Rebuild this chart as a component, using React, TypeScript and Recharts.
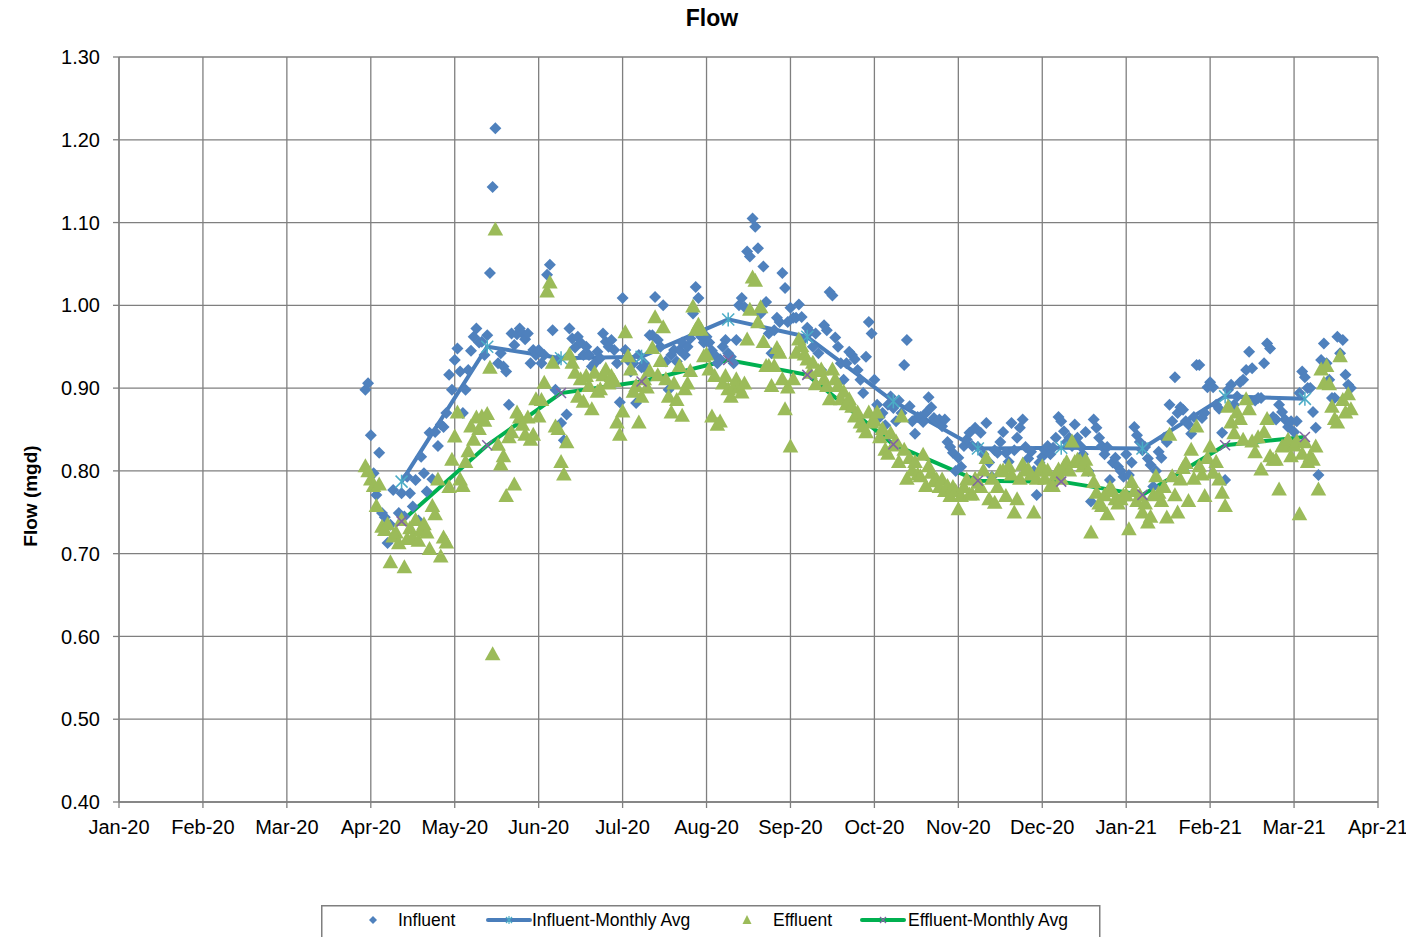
import React from 'react';
import { ComposedChart, Scatter, Line, XAxis, YAxis, CartesianGrid } from 'recharts';

const monthLabels = ['Jan-20', 'Feb-20', 'Mar-20', 'Apr-20', 'May-20', 'Jun-20', 'Jul-20', 'Aug-20', 'Sep-20', 'Oct-20', 'Nov-20', 'Dec-20', 'Jan-21', 'Feb-21', 'Mar-21', 'Apr-21'];
const daysInMonth = [31, 29, 31, 30, 31, 30, 31, 31, 30, 31, 30, 31, 31, 28, 31, 30];
const monthTicks = [0, 1, 2, 3, 4, 5, 6, 7, 8, 9, 10, 11, 12, 13, 14, 15];
const yTicks = [0.4, 0.5, 0.6, 0.7, 0.8, 0.9, 1.0, 1.1, 1.2, 1.3];

// Influent daily flow (mgd)
const influentMar20 = [0.898, 0.906]; // starts Mar 30
const influentApr20 = [0.843, 0.797, 0.771, 0.822, 0.749, 0.744, 0.713, 0.735, 0.777, 0.720, 0.749, 0.773, 0.745, 0.793, 0.773, 0.757, 0.789, 0.740, 0.817, 0.797, 0.775, 0.846, 0.790, 0.847, 0.830, 0.856, 0.853, 0.870, 0.916, 0.898];
const influentMay20 = [0.934, 0.948, 0.920, 0.870, 0.898, 0.922, 0.945, 0.962, 0.972, 0.955, 0.956, 0.940, 0.964, 1.039, 1.143, 1.214, 0.930, 0.942, 0.926, 0.920, 0.880, 0.966, 0.952, 0.965, 0.972, 0.966, 0.959, 0.966, 0.930, 0.946, 0.940];
const influentJun20 = [0.946, 0.930, 0.940, 1.037, 1.049, 0.970, 0.898, 0.935, 0.858, 0.837, 0.868, 0.972, 0.960, 0.949, 0.962, 0.955, 0.940, 0.950, 0.940, 0.926, 0.930, 0.944, 0.936, 0.966, 0.956, 0.950, 0.958, 0.946, 0.930, 0.883];
const influentJul20 = [1.009, 0.946, 0.934, 0.920, 0.930, 0.882, 0.940, 0.925, 0.930, 0.922, 0.964, 0.964, 1.010, 0.958, 0.950, 1.000, 0.932, 0.898, 0.940, 0.946, 0.932, 0.946, 0.955, 0.940, 0.950, 0.960, 0.990, 1.022, 1.009, 0.962, 0.955];
const influentAug20 = [0.962, 0.955, 0.945, 0.940, 0.930, 0.935, 0.950, 0.958, 0.942, 0.938, 0.930, 0.958, 1.000, 1.009, 0.998, 1.065, 1.059, 1.105, 1.095, 1.069, 0.990, 1.047, 1.004, 0.966, 0.942, 0.970, 0.985, 0.980, 1.039, 1.021, 0.980];
const influentSep20 = [0.997, 0.985, 0.985, 1.001, 0.986, 0.960, 0.973, 0.968, 0.950, 0.966, 0.942, 0.922, 0.976, 0.970, 1.016, 1.012, 0.961, 0.950, 0.930, 0.910, 0.930, 0.944, 0.940, 0.935, 0.922, 0.910, 0.894, 0.938, 0.980, 0.966];
const influentOct20 = [0.910, 0.880, 0.865, 0.870, 0.855, 0.880, 0.890, 0.876, 0.860, 0.885, 0.870, 0.928, 0.958, 0.878, 0.860, 0.845, 0.865, 0.865, 0.859, 0.870, 0.889, 0.877, 0.864, 0.860, 0.862, 0.854, 0.862, 0.835, 0.829, 0.822, 0.800];
const influentNov20 = [0.816, 0.805, 0.830, 0.838, 0.846, 0.830, 0.852, 0.829, 0.846, 0.820, 0.858, 0.810, 0.793, 0.825, 0.822, 0.835, 0.847, 0.822, 0.811, 0.858, 0.825, 0.840, 0.852, 0.862, 0.829, 0.815, 0.823, 0.800, 0.771, 0.810];
const influentDec20 = [0.817, 0.825, 0.830, 0.820, 0.828, 0.840, 0.865, 0.860, 0.848, 0.835, 0.840, 0.830, 0.856, 0.840, 0.830, 0.820, 0.847, 0.800, 0.763, 0.862, 0.852, 0.840, 0.830, 0.820, 0.829, 0.789, 0.810, 0.816, 0.805, 0.800, 0.793];
const influentJan21 = [0.820, 0.795, 0.810, 0.853, 0.843, 0.835, 0.825, 0.829, 0.815, 0.807, 0.781, 0.800, 0.823, 0.816, 0.840, 0.835, 0.880, 0.860, 0.913, 0.870, 0.877, 0.874, 0.860, 0.856, 0.845, 0.865, 0.928, 0.928, 0.864, 0.870, 0.901];
const influentFeb21 = [0.907, 0.901, 0.880, 0.875, 0.846, 0.789, 0.898, 0.904, 0.880, 0.890, 0.907, 0.910, 0.922, 0.944, 0.924, 0.885, 0.888, 0.888, 0.930, 0.954, 0.948, 0.865, 0.862, 0.880, 0.871, 0.862, 0.853, 0.860];
const influentMar21 = [0.847, 0.860, 0.894, 0.920, 0.913, 0.900, 0.900, 0.871, 0.852, 0.795, 0.934, 0.954, 0.930, 0.910, 0.888, 0.888, 0.962, 0.942, 0.958, 0.916, 0.904, 0.900];

// Effluent daily flow (mgd)
const effluentMar20 = [0.805, 0.799]; // starts Mar 30
const effluentApr20 = [0.789, 0.781, 0.757, 0.783, 0.732, 0.728, 0.735, 0.689, 0.720, 0.725, 0.712, 0.740, 0.683, 0.717, 0.730, 0.719, 0.740, 0.715, 0.728, 0.735, 0.725, 0.705, 0.757, 0.747, 0.789, 0.696, 0.719, 0.713, 0.780, 0.813];
const effluentMay20 = [0.841, 0.870, 0.789, 0.781, 0.810, 0.823, 0.853, 0.837, 0.864, 0.850, 0.865, 0.860, 0.868, 0.924, 0.578, 1.091, 0.831, 0.807, 0.817, 0.769, 0.840, 0.846, 0.783, 0.870, 0.864, 0.855, 0.843, 0.864, 0.837, 0.843, 0.886];
const effluentJun20 = [0.865, 0.885, 0.906, 1.016, 1.027, 0.930, 0.853, 0.850, 0.810, 0.795, 0.834, 0.940, 0.930, 0.918, 0.889, 0.910, 0.883, 0.914, 0.902, 0.874, 0.918, 0.895, 0.898, 0.915, 0.922, 0.905, 0.914, 0.908, 0.858, 0.843];
const effluentJul20 = [0.871, 0.967, 0.938, 0.922, 0.895, 0.902, 0.858, 0.889, 0.910, 0.900, 0.920, 0.948, 0.985, 0.915, 0.932, 0.973, 0.910, 0.889, 0.870, 0.905, 0.885, 0.926, 0.866, 0.898, 0.905, 0.920, 0.998, 0.970, 0.976, 0.970, 0.938];
const effluentAug20 = [0.940, 0.922, 0.865, 0.914, 0.855, 0.859, 0.905, 0.914, 0.898, 0.889, 0.900, 0.910, 0.900, 0.894, 0.905, 0.958, 0.994, 1.033, 1.029, 0.979, 0.997, 0.955, 0.926, 0.926, 0.902, 0.926, 0.948, 0.942, 0.910, 0.874, 0.900];
const effluentSep20 = [0.829, 0.910, 0.942, 0.958, 0.950, 0.940, 0.934, 0.918, 0.930, 0.904, 0.920, 0.922, 0.910, 0.902, 0.886, 0.922, 0.910, 0.902, 0.886, 0.895, 0.880, 0.886, 0.877, 0.865, 0.870, 0.858, 0.853, 0.846, 0.870, 0.858];
const effluentOct20 = [0.860, 0.870, 0.840, 0.850, 0.825, 0.820, 0.845, 0.830, 0.835, 0.810, 0.865, 0.825, 0.790, 0.815, 0.800, 0.810, 0.795, 0.793, 0.819, 0.781, 0.805, 0.797, 0.787, 0.789, 0.780, 0.789, 0.775, 0.781, 0.769, 0.780, 0.775];
const effluentNov20 = [0.753, 0.769, 0.780, 0.789, 0.771, 0.771, 0.790, 0.785, 0.780, 0.800, 0.815, 0.765, 0.790, 0.761, 0.780, 0.799, 0.800, 0.769, 0.805, 0.795, 0.749, 0.765, 0.790, 0.807, 0.800, 0.801, 0.795, 0.749, 0.790, 0.800];
const effluentDec20 = [0.805, 0.790, 0.800, 0.781, 0.781, 0.795, 0.801, 0.790, 0.805, 0.810, 0.800, 0.835, 0.810, 0.813, 0.811, 0.805, 0.813, 0.800, 0.725, 0.786, 0.773, 0.760, 0.757, 0.770, 0.747, 0.779, 0.775, 0.765, 0.760, 0.765, 0.770];
const effluentJan21 = [0.770, 0.729, 0.786, 0.775, 0.763, 0.770, 0.749, 0.760, 0.737, 0.744, 0.770, 0.793, 0.773, 0.763, 0.780, 0.743, 0.843, 0.793, 0.770, 0.749, 0.789, 0.803, 0.809, 0.763, 0.825, 0.790, 0.853, 0.805, 0.795, 0.769, 0.815];
const effluentFeb21 = [0.829, 0.797, 0.810, 0.789, 0.773, 0.757, 0.877, 0.858, 0.845, 0.870, 0.862, 0.837, 0.886, 0.874, 0.835, 0.822, 0.840, 0.801, 0.846, 0.862, 0.817, 0.813, 0.813, 0.777, 0.829, 0.831, 0.837, 0.817];
const effluentMar21 = [0.830, 0.835, 0.747, 0.820, 0.834, 0.810, 0.817, 0.813, 0.829, 0.777, 0.922, 0.905, 0.926, 0.904, 0.877, 0.862, 0.858, 0.938, 0.885, 0.870, 0.892, 0.874];

// Monthly averages (Apr-20 .. Mar-21)
const avgMonths = [3, 4, 5, 6, 7, 8, 9, 10, 11, 12, 13, 14];
const avgDays = [12, 13, 9, 8, 9, 7, 8, 8, 8, 7, 6, 5];
const influentAvg = [0.787, 0.950, 0.936, 0.938, 0.983, 0.962, 0.884, 0.827, 0.828, 0.827, 0.890, 0.887];
const effluentAvg = [0.739, 0.831, 0.894, 0.908, 0.934, 0.916, 0.832, 0.788, 0.787, 0.771, 0.831, 0.841];

type Pt = { x: number; y: number };
type MonthBlock = { month: number; start: number; values: number[] };

const influentBlocks: MonthBlock[] = [
  { month: 2, start: 30, values: influentMar20 },
  { month: 3, start: 1, values: influentApr20 },
  { month: 4, start: 1, values: influentMay20 },
  { month: 5, start: 1, values: influentJun20 },
  { month: 6, start: 1, values: influentJul20 },
  { month: 7, start: 1, values: influentAug20 },
  { month: 8, start: 1, values: influentSep20 },
  { month: 9, start: 1, values: influentOct20 },
  { month: 10, start: 1, values: influentNov20 },
  { month: 11, start: 1, values: influentDec20 },
  { month: 12, start: 1, values: influentJan21 },
  { month: 13, start: 1, values: influentFeb21 },
  { month: 14, start: 1, values: influentMar21 },
];
const effluentBlocks: MonthBlock[] = [
  { month: 2, start: 30, values: effluentMar20 },
  { month: 3, start: 1, values: effluentApr20 },
  { month: 4, start: 1, values: effluentMay20 },
  { month: 5, start: 1, values: effluentJun20 },
  { month: 6, start: 1, values: effluentJul20 },
  { month: 7, start: 1, values: effluentAug20 },
  { month: 8, start: 1, values: effluentSep20 },
  { month: 9, start: 1, values: effluentOct20 },
  { month: 10, start: 1, values: effluentNov20 },
  { month: 11, start: 1, values: effluentDec20 },
  { month: 12, start: 1, values: effluentJan21 },
  { month: 13, start: 1, values: effluentFeb21 },
  { month: 14, start: 1, values: effluentMar21 },
];

const toPoints = (blocks: MonthBlock[]): Pt[] =>
  blocks.flatMap((b) => b.values.map((y, i) => ({ x: b.month + (b.start - 1 + i) / daysInMonth[b.month], y })));

const avgPoints = (vals: number[]): Pt[] =>
  vals.map((y, i) => ({ x: avgMonths[i] + (avgDays[i] - 1) / daysInMonth[avgMonths[i]], y }));

const influentData = toPoints(influentBlocks);
const effluentData = toPoints(effluentBlocks);
const influentAvgData = avgPoints(influentAvg);
const effluentAvgData = avgPoints(effluentAvg);

const BLUE = '#4F81BD';
const BLUE_LINE = '#4A7EBB';
const CYAN = '#4BACC6';
const GREEN_TRI = '#9BBB59';
const GREEN_LINE = '#00B050';
const PURPLE = '#8064A2';
const GRID = '#7F7F7F';
const FONT = '"Liberation Sans", Arial, sans-serif';

const Diamond = (props: any) => {
  const { cx, cy } = props;
  if (cx == null || cy == null) return null;
  const r = 6;
  return <polygon points={`${cx},${cy - r} ${cx + r},${cy} ${cx},${cy + r} ${cx - r},${cy}`} fill={BLUE} />;
};

const Triangle = (props: any) => {
  const { cx, cy } = props;
  if (cx == null || cy == null) return null;
  return <polygon points={`${cx},${cy - 8.5} ${cx + 7.8},${cy + 5.5} ${cx - 7.8},${cy + 5.5}`} fill={GREEN_TRI} />;
};

const StarDot = (props: any) => {
  const { cx, cy, index } = props;
  if (cx == null || cy == null) return <g key={`s${index}`} />;
  const r = 6;
  return (
    <g key={`s${index}`} stroke={CYAN} strokeWidth={1.5}>
      <line x1={cx - r} y1={cy - r} x2={cx + r} y2={cy + r} />
      <line x1={cx - r} y1={cy + r} x2={cx + r} y2={cy - r} />
      <line x1={cx} y1={cy - r - 1} x2={cx} y2={cy + r + 1} />
    </g>
  );
};

const XDot = (props: any) => {
  const { cx, cy, index } = props;
  if (cx == null || cy == null) return <g key={`x${index}`} />;
  const r = 5;
  return (
    <g key={`x${index}`} stroke={PURPLE} strokeWidth={1.5}>
      <line x1={cx - r} y1={cy - r} x2={cx + r} y2={cy + r} />
      <line x1={cx - r} y1={cy + r} x2={cx + r} y2={cy - r} />
    </g>
  );
};

const legendItems = [
  { name: 'Influent', kind: 'diamond' },
  { name: 'Influent-Monthly Avg', kind: 'blueLine' },
  { name: 'Effluent', kind: 'triangle' },
  { name: 'Effluent-Monthly Avg', kind: 'greenLine' },
];

const Legend = () => {
  const slots = [
    { mx: 52, tx: 77 },
    { mx: 188, tx: 211 },
    { mx: 426, tx: 452 },
    { mx: 562, tx: 587 },
  ];
  const cy = 15;
  return (
    <svg width={780} height={34} style={{ position: 'absolute', left: 313, top: 897 }}>
      <rect x={0.75} y={0.75} width={778} height={40} fill="#fff" stroke="#7F7F7F" strokeWidth={1.5} />
      {legendItems.map((it, i) => {
        const s = slots[i];
        let marker: React.ReactNode = null;
        if (it.kind === 'diamond') {
          marker = <polygon points={`${s.mx},${cy - 4} ${s.mx + 4},${cy} ${s.mx},${cy + 4} ${s.mx - 4},${cy}`} fill={BLUE} />;
        } else if (it.kind === 'triangle') {
          marker = <polygon points={`${s.mx},${cy - 5} ${s.mx + 4.5},${cy + 4} ${s.mx - 4.5},${cy + 4}`} fill={GREEN_TRI} />;
        } else if (it.kind === 'blueLine') {
          marker = (
            <g>
              <line x1={s.mx - 21} y1={cy} x2={s.mx + 21} y2={cy} stroke={BLUE_LINE} strokeWidth={4} strokeLinecap="round" />
              <g stroke={CYAN} strokeWidth={1.2}>
                <line x1={s.mx - 3} y1={cy - 3} x2={s.mx + 3} y2={cy + 3} />
                <line x1={s.mx - 3} y1={cy + 3} x2={s.mx + 3} y2={cy - 3} />
                <line x1={s.mx} y1={cy - 4} x2={s.mx} y2={cy + 4} />
              </g>
            </g>
          );
        } else {
          marker = (
            <g>
              <line x1={s.mx - 21} y1={cy} x2={s.mx + 21} y2={cy} stroke={GREEN_LINE} strokeWidth={4} strokeLinecap="round" />
              <g stroke={PURPLE} strokeWidth={1.2}>
                <line x1={s.mx - 3} y1={cy - 3} x2={s.mx + 3} y2={cy + 3} />
                <line x1={s.mx - 3} y1={cy + 3} x2={s.mx + 3} y2={cy - 3} />
              </g>
            </g>
          );
        }
        return (
          <g key={it.name}>
            {marker}
            <text x={s.tx} y={cy + 6} fontSize={17.5} fontFamily={FONT} fill="#000">{it.name}</text>
          </g>
        );
      })}
    </svg>
  );
};

export default function App() {
  return (
    <div style={{ position: 'relative', width: 1406, height: 929, background: '#fff' }}>
      <div style={{ position: 'absolute', left: 0, width: 1408, top: -3, textAlign: 'center', fontFamily: FONT, fontWeight: 'bold', fontSize: 23, color: '#000' }}>
        Flow
      </div>
      <div
        style={{
          position: 'absolute',
          left: 23,
          top: 488,
          transform: 'translate(-50%, -50%) rotate(-90deg)',
          fontFamily: FONT,
          fontWeight: 'bold',
          fontSize: 19,
          whiteSpace: 'nowrap',
          color: '#000',
        }}
      >
        Flow (mgd)
      </div>
      <ComposedChart width={1406} height={929} margin={{ top: 49, right: 36, left: 0, bottom: 95 }}>
        <CartesianGrid stroke={GRID} strokeWidth={1.3} />
        <XAxis
          type="number"
          dataKey="x"
          domain={[0, 15]}
          ticks={monthTicks}
          interval={0}
          allowDataOverflow
          tickFormatter={(v: number) => monthLabels[v] ?? ''}
          height={40}
          tickSize={6}
          tickMargin={12}
          axisLine={{ stroke: GRID, strokeWidth: 1.3 }}
          tickLine={{ stroke: GRID, strokeWidth: 1.3 }}
          tick={{ fill: '#000', fontSize: 20, fontFamily: FONT }}
        />
        <YAxis
          type="number"
          dataKey="y"
          domain={[0.4, 1.3]}
          ticks={yTicks}
          interval={0}
          allowDataOverflow
          tickFormatter={(v: number) => v.toFixed(2)}
          width={111}
          tickSize={6}
          tickMargin={13}
          axisLine={{ stroke: GRID, strokeWidth: 1.3 }}
          tickLine={{ stroke: GRID, strokeWidth: 1.3 }}
          tick={{ fill: '#000', fontSize: 20, fontFamily: FONT }}
        />
        <Scatter name="Influent" data={influentData} dataKey="y" shape={Diamond} isAnimationActive={false} />
        <Line
          name="Influent-Monthly Avg"
          data={influentAvgData}
          dataKey="y"
          type="linear"
          stroke={BLUE_LINE}
          strokeWidth={4}
          dot={StarDot}
          activeDot={false}
          isAnimationActive={false}
        />
        <Scatter name="Effluent" data={effluentData} dataKey="y" shape={Triangle} isAnimationActive={false} />
        <Line
          name="Effluent-Monthly Avg"
          data={effluentAvgData}
          dataKey="y"
          type="linear"
          stroke={GREEN_LINE}
          strokeWidth={4}
          dot={XDot}
          activeDot={false}
          isAnimationActive={false}
        />
      </ComposedChart>
      <Legend />
    </div>
  );
}
